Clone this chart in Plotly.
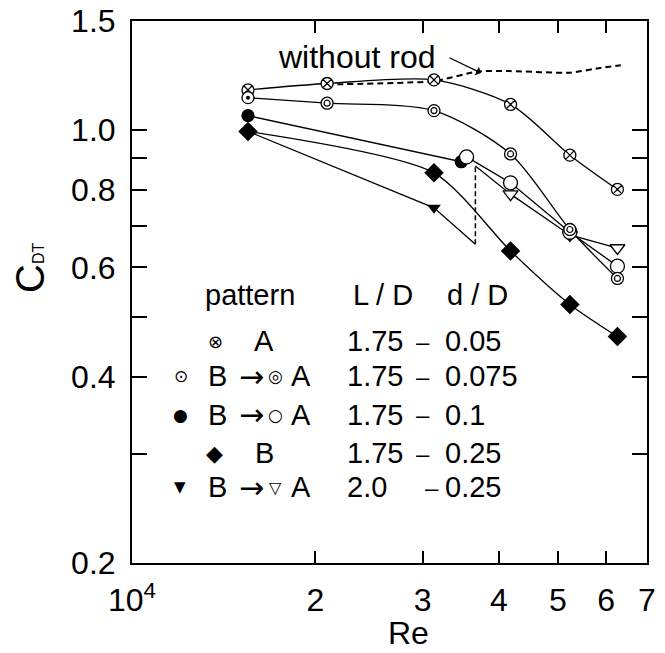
import math
import plotly.graph_objects as go

# ---------------- data ----------------
# pattern A, L/D=1.75, d/D=0.05  (crossed circles)
re_A = [1.55e4, 2.09e4, 3.13e4, 4.18e4, 5.23e4, 6.26e4]
cd_A = [1.161, 1.189, 1.205, 1.100, 0.911, 0.802]

# pattern B -> A, L/D=1.75, d/D=0.075 (first point dotted circle in B, double circles in A)
re_B075_B = [1.55e4]
cd_B075_B = [1.128]
re_B075_A = [2.09e4, 3.13e4, 4.18e4, 5.23e4, 6.26e4]
cd_B075_A = [1.105, 1.075, 0.915, 0.691, 0.576]

# pattern B -> A, L/D=1.75, d/D=0.1 (filled circles in B, open circles in A)
re_B10_B = [1.55e4, 3.47e4]
cd_B10_B = [1.055, 0.889]
re_B10_A = [3.54e4, 4.18e4, 5.23e4, 6.26e4]
cd_B10_A = [0.905, 0.822, 0.684, 0.603]

# pattern B, L/D=1.75, d/D=0.25 (filled diamonds)
re_B25 = [1.55e4, 3.13e4, 4.18e4, 5.23e4, 6.26e4]
cd_B25 = [0.995, 0.853, 0.638, 0.523, 0.464]

# pattern B -> A, L/D=2.0, d/D=0.25 (filled triangles in B, open in A)
re_L2_B = [1.55e4, 3.13e4]
cd_L2_B = [0.995, 0.749]
re_L2_jump = [3.66e4, 3.66e4]      # switch B -> A (dashed jump)
cd_L2_jump = [0.654, 0.875]
re_L2_A = [4.18e4, 5.23e4, 6.26e4]
cd_L2_A = [0.788, 0.677, 0.645]

# without rod (dashed)
re_norod = [2.09e4, 3.13e4, 3.69e4, 4.18e4, 5.24e4, 5.87e4, 6.34e4]
cd_norod = [1.185, 1.200, 1.243, 1.245, 1.238, 1.260, 1.272]

# axis ticks
x_tickvals = [1e4, 2e4, 3e4, 4e4, 5e4, 6e4, 7e4]
x_ticktext = ["10<sup>4</sup>", "2", "3", "4", "5", "6", "7"]
y_tickvals = [0.2, 0.3, 0.4, 0.5, 0.6, 0.7, 0.8, 0.9, 1.0, 1.5]
y_ticktext = ["0.2", "", "0.4", "", "0.6", "", "0.8", "", "1.0", "1.5"]

# legend table
leg_pattern = ["A", "B", "B", "B", "B"]
leg_LD = ["1.75", "1.75", "1.75", "1.75", "2.0"]
leg_dD = ["0.05", "0.075", "0.1", "0.25", "0.25"]

# ---------------- figure ----------------
W, H = 665, 653
L, T = 132, 21
PW, PH = 515, 542
R, B = W - L - PW, H - T - PH
FONT = "Liberation Sans, Arial, Helvetica, sans-serif"
SYMF = "DejaVu Sans, sans-serif"
LW = 1.3
MLW = 1.3


def px(xp):
    return (xp - L) / PW


def py(yp):
    return (T + PH - yp) / PH


def line(x, y, shape="linear", dash="solid", width=LW, smoothing=1.0):
    fig.add_trace(go.Scatter(x=x, y=y, mode="lines", hoverinfo="skip",
                             line=dict(color="black", width=width, dash=dash,
                                       shape=shape, smoothing=smoothing)))


def marks(x, y, symbol, size, fill, lw=MLW):
    fig.add_trace(go.Scatter(x=x, y=y, mode="markers", hoverinfo="skip",
                             marker=dict(symbol=symbol, size=size, color=fill, opacity=1,
                                         line=dict(color="black", width=lw))))


fig = go.Figure()

# ---- lines ----
line(re_norod, cd_norod, shape="spline", dash="6px,4px", width=2, smoothing=0.6)
line(re_L2_B + re_L2_jump[:1], cd_L2_B + cd_L2_jump[:1])
line(re_L2_jump, cd_L2_jump, dash="5px,3px", width=1.5)
line(re_L2_jump[1:] + re_L2_A, cd_L2_jump[1:] + cd_L2_A)
line(re_B25, cd_B25, shape="spline", smoothing=0.7)
line(re_B10_B + re_B10_A, cd_B10_B + cd_B10_A)
line(re_A, cd_A, shape="spline", smoothing=0.8)
line(re_B075_B + re_B075_A, cd_B075_B + cd_B075_A, shape="spline", smoothing=0.8)

# ---- markers ----
marks(re_L2_B, cd_L2_B, "triangle-down", 12, "black", lw=0)
marks(re_L2_A, cd_L2_A, "triangle-down", 13, "white")
marks(re_B25, cd_B25, "diamond", 15, "black", lw=0)
marks(re_B10_B, cd_B10_B, "circle", 12, "black")
marks(re_B10_A, cd_B10_A, "circle", 14, "white")
marks(re_A, cd_A, "circle-x", 12, "white")
marks(re_B075_B, cd_B075_B, "circle", 12, "white")
marks(re_B075_B, cd_B075_B, "circle", 4, "black", lw=0)
marks(re_B075_A, cd_B075_A, "circle", 12, "white")
marks(re_B075_A, cd_B075_A, "circle-open", 6, "black", lw=1.2)

# ---------------- annotations ----------------
ann = []


def txt(xp, yp, s, size=29, anchor="center", family=FONT):
    ann.append(dict(x=px(xp), y=py(yp), xref="paper", yref="paper", text=s,
                    showarrow=False, xanchor=anchor, yanchor="middle",
                    font=dict(family=family, size=size, color="black")))


# without rod label + arrow
txt(357, 57, "without rod", size=32)
ann.append(dict(x=px(481), y=py(73), xref="paper", yref="paper", ax=-33, ay=-16,
                text="", showarrow=True, arrowhead=1, arrowsize=1.3, arrowwidth=1.2,
                arrowcolor="black"))

# legend header
txt(250, 295, "pattern")
txt(383, 295, "L / D")
txt(477, 295, "d / D")

rows_y = [341, 376, 415, 453, 487]
key_sym = ["⊗", "⊙", "●", "◆", "▼"]
key_x = [215, 181, 180, 214, 180]
key_size = [18, 17, 17, 22, 15]
mid_sym = [None, "◎", "○", None, "▽"]
mid_size = [0, 17, 17, 0, 16]
dash_x = [423, 423, 423, 423, 432]

for i in range(5):
    y = rows_y[i]
    txt(key_x[i], y, key_sym[i], size=key_size[i], family=SYMF)
    if mid_sym[i] is None:
        txt(264, y, leg_pattern[i])
    else:
        txt(217, y, leg_pattern[i])
        txt(251, y, "→", size=30, family=SYMF)
        txt(275, y, mid_sym[i], size=mid_size[i], family=SYMF)
        txt(301, y, "A")
    txt(345, y, leg_LD[i], anchor="left")
    txt(dash_x[i], y, "–", size=24)
    txt(443, y, leg_dD[i], anchor="left")

# axis titles
txt(408, 633, "Re", size=32)
ann.append(dict(x=px(30), y=py(268), xref="paper", yref="paper",
                text="C<span style='font-size:16px'>DT</span>", showarrow=False,
                textangle=-90, xanchor="center", yanchor="middle",
                font=dict(family=FONT, size=40, color="black")))

fig.update_layout(
    width=W, height=H,
    margin=dict(l=L, r=R, t=T, b=B, autoexpand=False),
    plot_bgcolor="white", paper_bgcolor="white",
    showlegend=False,
    font=dict(family=FONT, size=32, color="black"),
    annotations=ann,
    xaxis=dict(type="log", range=[math.log10(1e4), math.log10(7e4)],
               tickmode="array", tickvals=x_tickvals, ticktext=x_ticktext,
               ticks="inside", ticklen=12, tickwidth=1.5, tickcolor="black",
               showline=True, linewidth=2, linecolor="black", mirror="ticks",
               showgrid=False, zeroline=False, ticklabelstandoff=8,
               ticklabeloverflow="allow",
               automargin=False, tickfont=dict(size=32)),
    yaxis=dict(type="log", range=[math.log10(0.2), math.log10(1.5)],
               tickmode="array", tickvals=y_tickvals, ticktext=y_ticktext,
               ticks="inside", ticklen=15, tickwidth=1.5, tickcolor="black",
               showline=True, linewidth=2, linecolor="black", mirror="ticks",
               showgrid=False, zeroline=False, ticklabelstandoff=8,
               ticklabeloverflow="allow",
               automargin=False, tickfont=dict(size=32)),
)

# remove the default 8px page margin so the figure fills the window exactly
fig.write_html("out.html", config={"displayModeBar": False},
               post_script="document.body.style.margin='0px';")
